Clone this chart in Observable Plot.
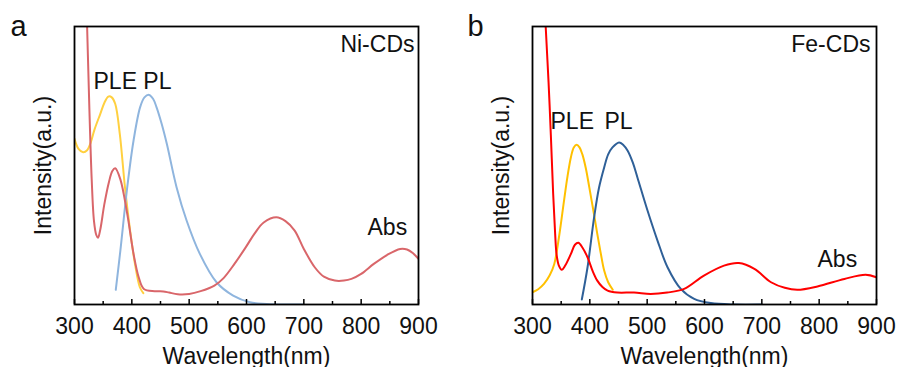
<!DOCTYPE html>
<html><head><meta charset="utf-8">
<script src="https://cdn.jsdelivr.net/npm/d3@7"></script>
<script src="https://cdn.jsdelivr.net/npm/@observablehq/plot@0.6"></script>
<style>
body{margin:0;background:#fff;}
#wrap{position:relative;width:897px;height:367px;overflow:hidden;font-family:"Liberation Sans",Arial,sans-serif;}
#pa{position:absolute;left:0;top:0;}
#pb{position:absolute;left:448px;top:0;}
</style></head><body><div id="wrap"><div id="pa"></div><div id="pb"></div></div>
<script>
// ---- tick values ----
const majorTicks = [300, 400, 500, 600, 700, 800, 900];
const minorTicks = [350, 450, 550, 650, 750, 850];

// ---- Panel a: Ni-CDs ----
const absA_wl = [318, 322, 326, 330, 334, 338, 341, 345, 352, 360, 366, 371, 380, 392, 403, 412, 421, 440, 455, 465, 480, 500, 520, 544, 560, 579, 600, 614, 630, 652, 668, 684, 700, 719, 735, 754, 770, 783, 800, 822, 845, 868, 880, 890, 900];
const absA = [130, 100, 70, 45, 30, 25, 24, 27, 36, 44, 48, 49, 45, 32.6, 18.2, 9.8, 5.6, 4.8, 4.7, 4.3, 3.7, 3.8, 4.8, 6.8, 9.5, 14.6, 21, 25.5, 29.5, 31.4, 30, 26.6, 20, 13.4, 10, 8.6, 8.6, 9.2, 11, 14.6, 17.8, 20, 19.8, 18.5, 16.4];
const pleA_wl = [300, 307, 315, 322, 327.5, 335, 345, 352, 359, 365, 371, 379, 388, 397, 405.5, 414, 420];
const pleA = [59.6, 56, 54.8, 55.5, 57.8, 63, 68.6, 72.5, 74.8, 74.5, 72.2, 61.4, 42.2, 26.6, 14.6, 6.2, 4.1];
const plA_wl = [372, 380, 392, 403, 414.5, 422, 430, 437, 443, 452, 461, 478, 495.5, 518.6, 547.7, 576.7, 606, 635, 670, 700];
const plA = [5.3, 19.4, 42.2, 59, 71, 74.5, 75.4, 74, 71, 65, 57.8, 42.2, 30.2, 18.2, 8, 3.2, 0.8, 0.2, 0, 0];

// ---- Panel b: Fe-CDs ----
const absB_wl = [320, 323, 328, 332, 336, 339.5, 342, 346, 351, 357, 367, 374, 380, 387, 396, 405, 413, 422, 431, 448, 477, 506, 535, 564.5, 599, 634, 660, 687, 716, 740, 762, 797, 844, 881, 900];
const absB = [115, 100, 80, 61, 40, 25.4, 18, 14, 12.5, 14, 18.2, 21.5, 22.2, 20.5, 17, 12, 8.6, 6.3, 5, 4.3, 4.3, 3.8, 4.3, 5.6, 10.4, 14, 14.9, 12.8, 8, 6, 5.3, 6.5, 9.2, 10.7, 9.8];
const pleB_wl = [300, 310, 320, 330, 338, 346, 355, 361, 367, 372, 377, 382, 387, 393, 399, 406, 413, 419, 425, 432, 440];
const pleB = [4.4, 5.5, 7.4, 10.5, 14.6, 24, 37.4, 46, 53, 56.5, 57.5, 56.5, 54, 49, 42.2, 34, 25.4, 18.5, 12.2, 8, 5.3];
const plB_wl = [386, 396, 407.5, 416, 425, 432, 439.5, 451, 458, 466, 475, 483, 500.6, 518, 535.5, 558.7, 582, 611, 652, 700];
const plB = [1.8, 13.4, 31.4, 42, 49.3, 54, 56.5, 58.3, 57.5, 55.3, 51, 45.7, 33.8, 23, 13.4, 5.6, 2, 0.5, 0, 0];

const FONT = "Liberation Sans, Arial, sans-serif";
const TEXT = "#111";
const FS = 23;

function series(wl, v) { return wl.map((w, i) => ({wl: w, v: v[i]})); }

function panel(o) {
  const height = 367, marginTop = 26, marginBottom = 63;
  const fh = height - marginTop - marginBottom;
  const line = (wl, v, c) => Plot.line(series(wl, v), {x: "wl", y: "v", stroke: c, strokeWidth: 2, curve: "catmull-rom", clip: true});
  return Plot.plot({
    width: o.width, height, marginTop, marginBottom, marginLeft: o.marginLeft, marginRight: o.marginRight,
    style: {fontFamily: FONT, fontSize: FS + "px", color: TEXT, background: "transparent"},
    x: {domain: [300, 900]},
    y: {domain: [0, 100]},
    marks: [
      line(o.pleWl, o.pleV, o.colors[0]),
      line(o.plWl, o.plV, o.colors[1]),
      line(o.absWl, o.absV, o.colors[2]),
      Plot.tickX(majorTicks, {x: d => d, insetTop: fh - 5, stroke: "#000", strokeWidth: 1.5}),
      Plot.tickX(minorTicks, {x: d => d, insetTop: fh - 3, stroke: "#000", strokeWidth: 1.5}),
      Plot.axisX({ticks: majorTicks, tickSize: 0, tickPadding: 13, fontSize: FS, label: "Wavelength(nm)", labelAnchor: "center", labelOffset: 59, labelArrow: "none", tickFormat: d => String(d)}),
      Plot.axisY({ticks: [], tickSize: 0, label: "Intensity(a.u.)", labelAnchor: "center", labelOffset: 40, labelArrow: "none", fontSize: FS}),
      Plot.frame({stroke: "#000", strokeWidth: 1.8}),
      Plot.text([o.tag], {frameAnchor: "top-left", text: d => d, textAnchor: "start", lineAnchor: "bottom", dx: o.tagDx, dy: 9, fontSize: 29, fill: TEXT}),
      Plot.text([o.name], {frameAnchor: "top-right", text: d => d, textAnchor: "end", lineAnchor: "top", dx: o.nameDx, dy: 9, fontSize: FS, fill: TEXT}),
      ...o.labels.map(l => Plot.text([l.t], {frameAnchor: "top-left", text: d => d, textAnchor: "start", lineAnchor: "top", dx: l.dx, dy: l.dy, fontSize: FS, fill: TEXT}))
    ]
  });
}

document.getElementById("pa").append(panel({
  absWl: absA_wl, absV: absA, pleWl: pleA_wl, pleV: pleA, plWl: plA_wl, plV: plA,
  colors: ["#ffd040", "#8fb5de", "#d9666a"],
  width: 448, marginLeft: 74, marginRight: 30,
  tag: "a", tagDx: -64, name: "Ni-CDs", nameDx: -4,
  labels: [{t: "PLE PL", dx: 19, dy: 46}, {t: "Abs", dx: 293, dy: 192}]
}));
document.getElementById("pb").append(panel({
  absWl: absB_wl, absV: absB, pleWl: pleB_wl, pleV: pleB, plWl: plB_wl, plV: plB,
  colors: ["#ffc000", "#2f6098", "#ff0000"],
  width: 449, marginLeft: 84, marginRight: 21,
  tag: "b", tagDx: -65, name: "Fe-CDs", nameDx: -6,
  labels: [{t: "PLE", dx: 18, dy: 86}, {t: "PL", dx: 72, dy: 86}, {t: "Abs", dx: 285, dy: 224}]
}));
</script>
</body></html>
